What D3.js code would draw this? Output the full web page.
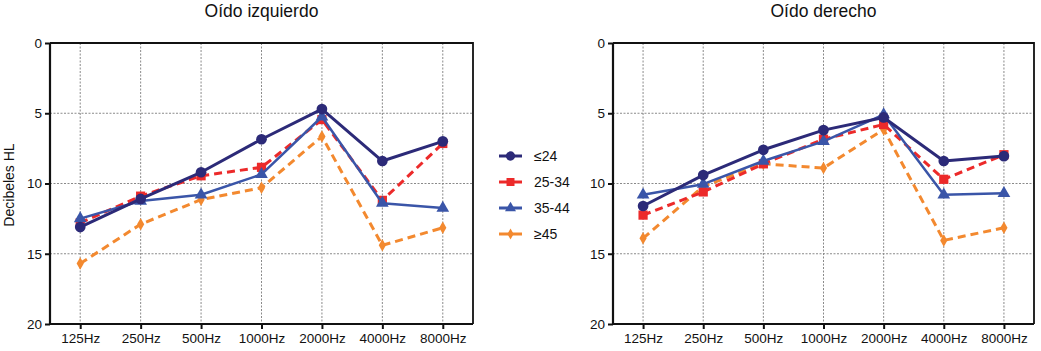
<!DOCTYPE html>
<html>
<head>
<meta charset="utf-8">
<script src="https://cdn.jsdelivr.net/npm/d3@7"></script>
<style>
  body { margin: 0; background: #fff; }
  text { font-family: "Liberation Sans", Arial, sans-serif; fill: #111; }
</style>
</head>
<body>
<script>
// frequencies on the x axis
const freqs = ['125Hz', '250Hz', '500Hz', '1000Hz', '2000Hz', '4000Hz', '8000Hz'];
const yTicks = [0, 5, 10, 15, 20];
const groups = ['≤24', '25-34', '35-44', '≥45'];

// left ear (dB HL)
const leftLe24 = [13.1, 11.1, 9.2, 6.85, 4.7, 8.4, 7.0];
const left25_34 = [12.8, 10.9, 9.45, 8.85, 5.45, 11.2, 7.15];
const left35_44 = [12.5, 11.25, 10.8, 9.35, 5.25, 11.4, 11.75];
const leftGe45 = [15.7, 12.9, 11.15, 10.3, 6.65, 14.4, 13.15];

// right ear (dB HL)
const rightLe24 = [11.6, 9.4, 7.6, 6.2, 5.3, 8.4, 8.05];
const right25_34 = [12.25, 10.6, 8.6, 6.85, 5.8, 9.7, 7.95];
const right35_44 = [10.8, 10.05, 8.4, 7.0, 5.1, 10.8, 10.7];
const rightGe45 = [13.9, 10.2, 8.6, 8.9, 6.15, 14.05, 13.15];

const styles = [
  { color: '#2c2a78', width: 3, dash: null, symbol: d3.symbolCircle, size: 90 },
  { color: '#ec2a2a', width: 3, dash: '8,5', symbol: d3.symbolSquare, size: 85 },
  { color: '#3a55a8', width: 2.5, dash: null, symbol: d3.symbolTriangle, size: 70 },
  { color: '#f3892f', width: 3, dash: '8,5', symbol: d3.symbolDiamond, size: 45 }
];

const width = 1041, height = 351;
const svg = d3.select('body').append('svg')
  .attr('width', width)
  .attr('height', height);

const y = d3.scaleLinear().domain([0, 20]).range([43, 324]);

function drawPanel(x0, x1, title, series) {
  const x = d3.scalePoint().domain(freqs).range([x0, x1]).padding(0.5);
  const g = svg.append('g');

  // grid
  g.selectAll('.vgrid').data(freqs).enter().append('line')
    .attr('x1', d => x(d)).attr('x2', d => x(d))
    .attr('y1', y(0)).attr('y2', y(20))
    .attr('stroke', '#8a8a8a').attr('stroke-width', 1).attr('stroke-dasharray', '2,1.5');
  g.selectAll('.hgrid').data([5, 10, 15]).enter().append('line')
    .attr('x1', x0).attr('x2', x1)
    .attr('y1', d => y(d)).attr('y2', d => y(d))
    .attr('stroke', '#8a8a8a').attr('stroke-width', 1).attr('stroke-dasharray', '2,1.5');

  // frame top/right
  g.append('path')
    .attr('d', `M${x0},${y(0)}H${x1}V${y(20)}`)
    .attr('fill', 'none').attr('stroke', '#111').attr('stroke-width', 1.8);

  // axes
  const yAxis = g.append('g').attr('transform', `translate(${x0},0)`)
    .call(d3.axisLeft(y).tickValues(yTicks).tickSize(5).tickPadding(3));
  const xAxis = g.append('g').attr('transform', `translate(0,${y(20)})`)
    .call(d3.axisBottom(x).tickSize(5).tickPadding(4));
  [yAxis, xAxis].forEach(a => {
    a.select('.domain').attr('stroke', '#111').attr('stroke-width', 2.2);
    a.selectAll('.tick line').attr('stroke', '#111').attr('stroke-width', 2);
    a.selectAll('text').attr('font-size', 13.5).attr('font-family', '"Liberation Sans", Arial, sans-serif').attr('fill', '#111');
  });
  yAxis.select('.domain').attr('d', `M0,${y(0)}V${y(20)}`);
  xAxis.select('.domain').attr('d', `M${x0},0H${x1}`);

  // title
  g.append('text')
    .attr('x', (x0 + x1) / 2).attr('y', 17)
    .attr('text-anchor', 'middle').attr('font-size', 17.5)
    .text(title);

  const line = d3.line().x((d, i) => x(freqs[i])).y(d => y(d));

  // draw from bottom to top: >=45, 25-34, 35-44, <=24
  [3, 1, 2, 0].forEach(k => {
    const s = styles[k];
    g.append('path')
      .datum(series[k])
      .attr('fill', 'none')
      .attr('stroke', s.color)
      .attr('stroke-width', s.width)
      .attr('stroke-dasharray', s.dash)
      .attr('stroke-linejoin', 'round')
      .attr('d', line);
    g.selectAll('.m' + k).data(series[k]).enter().append('path')
      .attr('transform', (d, i) => `translate(${x(freqs[i])},${y(d)})`)
      .attr('d', d3.symbol().type(s.symbol).size(s.size))
      .attr('fill', s.color);
  });
}

drawPanel(50, 473, 'Oído izquierdo', [leftLe24, left25_34, left35_44, leftGe45]);
drawPanel(613, 1034, 'Oído derecho', [rightLe24, right25_34, right35_44, rightGe45]);

// y label
svg.append('text')
  .attr('transform', 'translate(14,185) rotate(-90)')
  .attr('text-anchor', 'middle')
  .attr('font-size', 14)
  .text('Decibeles HL');

// legend
const legendY = [156, 182, 208, 234];
const legend = svg.selectAll('.legend').data(groups).enter().append('g')
  .attr('transform', (d, i) => `translate(0,${legendY[i]})`);
legend.append('line')
  .attr('x1', 499).attr('x2', 522)
  .attr('stroke', (d, i) => styles[i].color)
  .attr('stroke-width', 3);
legend.append('path')
  .attr('transform', 'translate(510.5,0)')
  .attr('d', (d, i) => d3.symbol().type(styles[i].symbol).size(styles[i].size * 0.75)())
  .attr('fill', (d, i) => styles[i].color);
legend.append('text')
  .attr('x', 534).attr('y', 0).attr('dy', '0.35em')
  .attr('font-size', 14)
  .text(d => d);
</script>
</body>
</html>
